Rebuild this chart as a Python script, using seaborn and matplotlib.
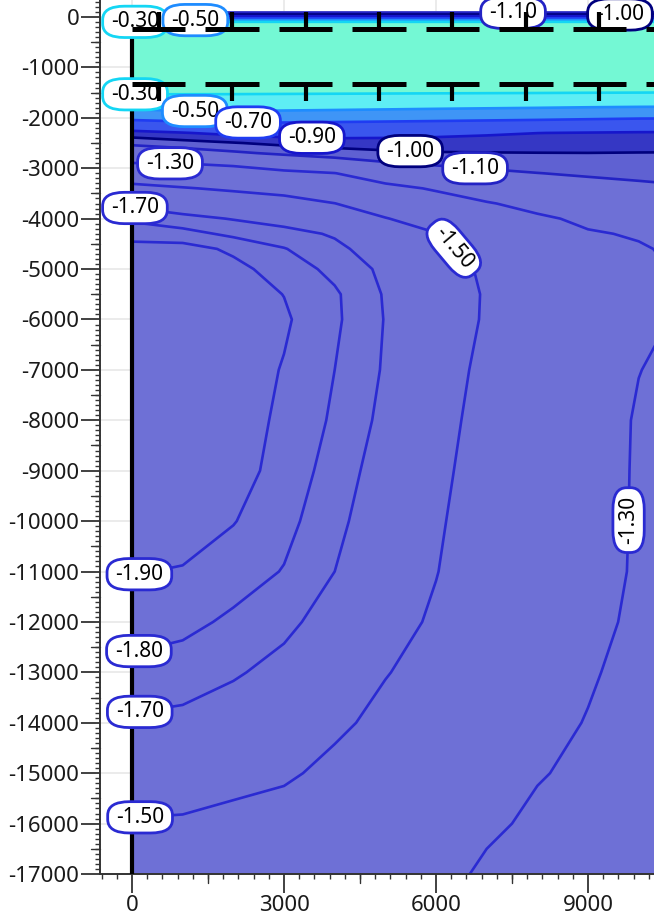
import numpy as np
import matplotlib
matplotlib.use("Agg")
import matplotlib.pyplot as plt
import seaborn as sns
from matplotlib.ticker import MultipleLocator, FuncFormatter

# ---------------------------------------------------------------- data
# grid node coordinates (m)
x_nodes = [0, 1000, 2000, 3000, 4000, 5000, 6000, 7000, 8000, 9000, 10000, 11000]
y_nodes = [100, 0, -100, -1300, -1500, -1700, -1900, -2100, -2300, -2500, -2700,
           -2900, -3100, -3400, -3700, -4000, -4300, -4600, -5000, -5500, -6000,
           -7000, -8000, -9000, -10000, -11000, -12000, -13000, -14000, -15000,
           -16000, -17000]

# field values at the grid nodes, one row per depth in y_nodes
field_rows = [
    [-1.15] * 12,
    [-0.85] * 12,
    [-0.28] * 12,
    [-0.20] * 12,
    [-0.280, -0.282, -0.283, -0.285, -0.287, -0.289, -0.291, -0.293, -0.295, -0.298, -0.300, -0.302],
    [-0.400, -0.393, -0.395, -0.399, -0.403, -0.408, -0.413, -0.417, -0.422, -0.428, -0.432, -0.435],
    [-0.553, -0.523, -0.521, -0.529, -0.537, -0.546, -0.556, -0.566, -0.575, -0.587, -0.597, -0.600],
    [-0.757, -0.730, -0.707, -0.706, -0.714, -0.723, -0.732, -0.742, -0.752, -0.764, -0.776, -0.780],
    [-0.938, -0.906, -0.871, -0.846, -0.842, -0.855, -0.868, -0.884, -0.899, -0.905, -0.910, -0.912],
    [-1.075, -1.038, -1.006, -0.974, -0.953, -0.946, -0.946, -0.949, -0.951, -0.953, -0.955, -0.957],
    [-1.190, -1.163, -1.119, -1.078, -1.048, -1.021, -1.007, -1.004, -1.002, -1.001, -1.003, -1.004],
    [-1.302, -1.298, -1.274, -1.215, -1.163, -1.111, -1.082, -1.064, -1.052, -1.043, -1.036, -1.030],
    [-1.401, -1.384, -1.364, -1.333, -1.303, -1.217, -1.162, -1.126, -1.102, -1.085, -1.073, -1.063],
    [-1.543, -1.509, -1.480, -1.450, -1.403, -1.340, -1.286, -1.223, -1.181, -1.149, -1.127, -1.110],
    [-1.671, -1.625, -1.587, -1.556, -1.502, -1.423, -1.364, -1.310, -1.259, -1.212, -1.179, -1.160],
    [-1.778, -1.732, -1.694, -1.654, -1.595, -1.506, -1.435, -1.360, -1.320, -1.276, -1.231, -1.210],
    [-1.873, -1.838, -1.776, -1.739, -1.687, -1.575, -1.505, -1.400, -1.355, -1.310, -1.290, -1.250],
    [-1.925, -1.940, -1.881, -1.805, -1.728, -1.635, -1.520, -1.465, -1.380, -1.325, -1.310, -1.275],
    [-1.945, -1.955, -1.930, -1.855, -1.772, -1.675, -1.535, -1.488, -1.400, -1.340, -1.315, -1.290],
    [-1.955, -1.965, -1.950, -1.898, -1.815, -1.690, -1.540, -1.494, -1.415, -1.350, -1.320, -1.295],
    [-1.960, -1.970, -1.955, -1.915, -1.818, -1.695, -1.528, -1.495, -1.420, -1.355, -1.315, -1.290],
    [-1.965, -1.975, -1.960, -1.893, -1.800, -1.688, -1.519, -1.490, -1.420, -1.360, -1.302, -1.270],
    [-1.965, -1.975, -1.960, -1.875, -1.785, -1.670, -1.520, -1.480, -1.410, -1.355, -1.290, -1.260],
    [-1.960, -1.970, -1.950, -1.855, -1.762, -1.640, -1.519, -1.465, -1.400, -1.345, -1.290, -1.255],
    [-1.945, -1.950, -1.905, -1.830, -1.735, -1.610, -1.5125, -1.450, -1.385, -1.340, -1.290, -1.250],
    [-1.905, -1.893, -1.845, -1.795, -1.700, -1.575, -1.5034, -1.435, -1.370, -1.333, -1.290, -1.250],
    [-1.844, -1.827, -1.782, -1.730, -1.645, -1.540, -1.485, -1.415, -1.355, -1.322, -1.285, -1.245],
    [-1.772, -1.753, -1.714, -1.660, -1.585, -1.505, -1.460, -1.395, -1.340, -1.307, -1.280, -1.240],
    [-1.683, -1.671, -1.632, -1.588, -1.522, -1.470, -1.430, -1.370, -1.320, -1.297, -1.270, -1.235],
    [-1.586, -1.577, -1.546, -1.518, -1.470, -1.440, -1.400, -1.345, -1.305, -1.285, -1.260, -1.230],
    [-1.489, -1.483, -1.460, -1.447, -1.420, -1.400, -1.365, -1.315, -1.285, -1.270, -1.250, -1.220],
    [-1.392, -1.389, -1.375, -1.375, -1.365, -1.360, -1.330, -1.285, -1.260, -1.255, -1.240, -1.210],
]

# contour levels and their line colours
line_levels = [-1.9, -1.8, -1.7, -1.5, -1.3, -1.1, -1.0, -0.9, -0.7, -0.5, -0.3]
line_colors = ['#2a2ad2', '#2a2ad2', '#2a2ad2', '#2a2ad2', '#2a2ad2',
               '#2323c4', '#00007e', '#1616cc', '#1f3cf2', '#1e8cff', '#14d6f4']

# filled bands
fill_levels = [-2.1, -1.1, -1.0, -0.9, -0.7, -0.5, -0.3, 0.0]
fill_colors = ['#6e70d6', '#5f61d2', '#3537c4', '#3a56ee', '#3f95f6', '#5eeef4', '#74f8d4']

# labelled contours: (level, x, y, rotation)
label_specs = [
    (-0.3, 60, -97, 0), (-0.5, 1250, -60, 0), (-1.1, 7520, 83, 0), (-1.0, 9630, 50, 0),
    (-0.3, 60, -1560, 0), (-0.5, 1240, -1870, 0), (-0.7, 2290, -2090, 0),
    (-0.9, 3550, -2390, 0), (-1.0, 5490, -2660, 0), (-1.1, 6770, -3010, 0),
    (-1.3, 750, -2896, 0), (-1.7, 60, -3770, 0), (-1.5, 6470, -4460, -50),
    (-1.3, 9790, -9980, 90),
    (-1.9, 160, -11130, 0), (-1.8, 160, -12676, 0), (-1.7, 160, -13830, 0),
    (-1.5, 160, -15890, 0),
]

# layer boundaries drawn as tick-marked dashed lines: (depth, tick direction)
layer_bounds = [(-240, 1), (-1330, -1)]
# domain side wall
wall_x = 0
wall_top, wall_bottom = -400, -17000

x_limits = (-632, 10302)
y_limits = (-17000, 337)

# ---------------------------------------------------------------- style
sns.set_theme(style="white")
plt.rcParams.update({
    "font.family": ["Noto Sans", "DejaVu Sans"],
    "axes.unicode_minus": False,
})

fig = plt.figure(figsize=(6.54, 9.21), dpi=100)
ax = fig.add_axes([100 / 654, 47 / 921, 554 / 654, 874 / 921])
ax.set_xlim(*x_limits)
ax.set_ylim(*y_limits)

X, Y = np.meshgrid(x_nodes, y_nodes)
Z = np.array(field_rows)

ax.contourf(X, Y, Z, levels=fill_levels, colors=fill_colors, zorder=1)
cs = ax.contour(X, Y, Z, levels=line_levels, colors=line_colors,
                linewidths=1.9, zorder=2)


def point_on_level(level, px, py):
    """Nearest point of the drawn contour `level` to (px, py)."""
    idx = list(cs.levels).index(level)
    tr = ax.transData
    target = tr.transform((px, py))
    best = None
    for seg in cs.allsegs[idx]:
        if len(seg) < 2:
            continue
        pts = tr.transform(seg)
        a, b = pts[:-1], pts[1:]
        d = b - a
        L2 = (d ** 2).sum(axis=1)
        L2[L2 == 0] = 1e-12
        t = np.clip(((target - a) * d).sum(axis=1) / L2, 0, 1)
        proj = a + d * t[:, None]
        dist = ((proj - target) ** 2).sum(axis=1)
        k = int(np.argmin(dist))
        if best is None or dist[k] < best[0]:
            best = (dist[k], proj[k])
    return tr.inverted().transform(best[1])


color_of = dict(zip(line_levels, line_colors))
for lev, lx, ly, rot in label_specs:
    qx, qy = point_on_level(lev, lx, ly)
    ax.text(qx, qy, f"{lev:.2f}", fontsize=15, color='black',
            ha='center', va='center', rotation=rot,
            rotation_mode='anchor', zorder=4,
            bbox=dict(boxstyle='round,pad=0.4,rounding_size=1.05',
                      mutation_aspect=0.62,
                      fc='white', ec=color_of[lev], lw=2.0))

# side wall
ax.plot([wall_x, wall_x], [wall_top, wall_bottom], color='black', lw=3.0,
        solid_capstyle='butt', zorder=3)

# dashed layer boundaries with ticks at the centre of each dash
dash_len, dash_step = 1050, 1450
for depth, sgn in layer_bounds:
    for s in np.arange(0, x_limits[1], dash_step):
        e = min(s + dash_len, x_limits[1])
        ax.plot([s, e], [depth, depth], color='black', lw=3.6,
                solid_capstyle='butt', zorder=5)
        c = s + dash_len / 2
        if c < x_limits[1]:
            ax.plot([c, c], [depth, depth + sgn * 340], color='black', lw=3.0,
                    solid_capstyle='butt', zorder=5)

ax.grid(True, which='major', color='black', alpha=0.1, lw=1.1)
ax.xaxis.set_major_locator(MultipleLocator(3000))
ax.xaxis.set_minor_locator(MultipleLocator(300))
ax.yaxis.set_major_locator(MultipleLocator(1000))
ax.yaxis.set_minor_locator(MultipleLocator(100))
fmt = FuncFormatter(lambda v, p: f"{int(round(v))}")
ax.xaxis.set_major_formatter(fmt)
ax.yaxis.set_major_formatter(fmt)

ax.tick_params(which='major', direction='out', length=13.5, width=1.3,
               color='#333333', labelsize=16, labelcolor='#1a1a1a', pad=1.5,
               bottom=True, left=True)
ax.tick_params(which='minor', direction='out', length=3.6, width=1.0,
               color='#333333', bottom=True, left=True)

# medium ticks half way between the major ones
xt = ax.get_xaxis_transform()
for v in np.arange(1500, x_limits[1], 3000):
    ax.plot([v, v], [0, -9 / 874], transform=xt, color='#333333', lw=1.0,
            clip_on=False, zorder=6)
yt = ax.get_yaxis_transform()
for v in np.arange(-500, y_limits[0], -1000):
    ax.plot([0, -9 / 554], [v, v], transform=yt, color='#333333', lw=1.0,
            clip_on=False, zorder=6)

for side in ('top', 'right'):
    ax.spines[side].set_visible(False)
for side in ('left', 'bottom'):
    ax.spines[side].set_color('#333333')
    ax.spines[side].set_linewidth(1.4)

fig.savefig("out.png", dpi=100)
